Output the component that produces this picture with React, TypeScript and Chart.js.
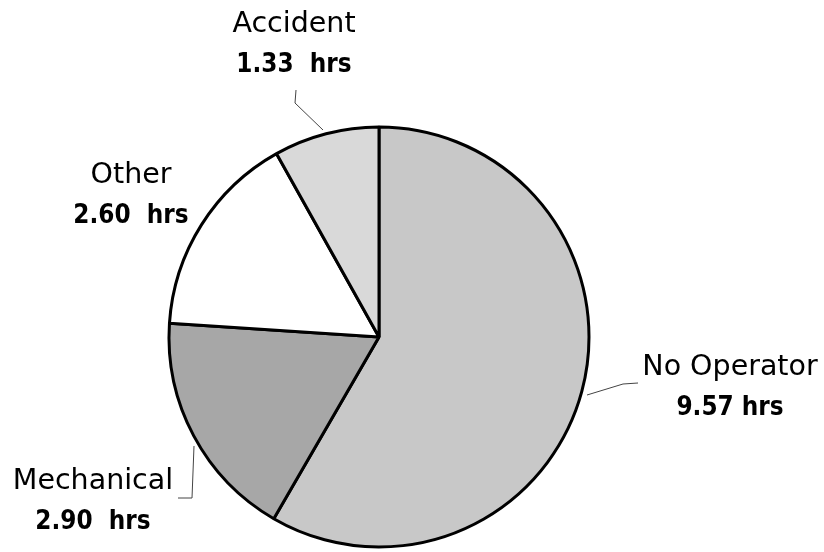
import React, { useEffect, useRef } from "react";
import { Chart, registerables } from "chart.js";

Chart.register(...registerables);

const categories = ["No Operator", "Mechanical", "Other", "Accident"];
const hours = [9.57, 2.9, 2.6, 1.33];
const valueLabels = ["9.57 hrs", "2.90  hrs", "2.60  hrs", "1.33  hrs"];
const sliceColors = ["#c8c8c8", "#a7a7a7", "#ffffff", "#d9d9d9"];

// label anchor (centre x, first baseline) and leader-line polylines, in px
const labelPlacement = [
  { cx: 730, y: 375, line: [[587, 395], [623, 384], [638, 383]] },
  { cx: 93, y: 489, line: [[194, 446], [192, 498], [178, 498]] },
  { cx: 131, y: 183, line: [] as number[][] },
  { cx: 294, y: 32, line: [[296, 90], [295, 103], [323, 130]] },
];

const labelPlugin = {
  id: "outerLabels",
  afterDraw(chart: any) {
    const ctx = chart.ctx as CanvasRenderingContext2D;
    ctx.save();
    categories.forEach((name, i) => {
      const p = labelPlacement[i];
      if (p.line.length) {
        ctx.beginPath();
        ctx.strokeStyle = "#444";
        ctx.lineWidth = 1;
        p.line.forEach(([x, y], k) => (k === 0 ? ctx.moveTo(x, y) : ctx.lineTo(x, y)));
        ctx.stroke();
      }
      ctx.fillStyle = "#000";
      ctx.textAlign = "center";
      ctx.textBaseline = "alphabetic";
      ctx.font = '28.5px "DejaVu Sans"';
      ctx.fillText(name, p.cx, p.y);
      ctx.save();
      ctx.translate(p.cx, p.y + 40);
      ctx.scale(0.86, 1);
      ctx.font = 'bold 27px "DejaVu Sans"';
      ctx.fillText(valueLabels[i], 0, 0);
      ctx.restore();
    });
    ctx.restore();
  },
};

export default function App() {
  const ref = useRef<HTMLCanvasElement>(null);
  useEffect(() => {
    if (!ref.current) return;
    const chart = new Chart(ref.current, {
      type: "pie",
      data: {
        labels: categories,
        datasets: [
          {
            data: hours,
            backgroundColor: sliceColors,
            borderColor: "#000",
            borderWidth: 3,
            hoverOffset: 0,
            radius: 210,
          } as any,
        ],
      },
      options: {
        responsive: false,
        animation: false,
        devicePixelRatio: 1,
        layout: { padding: { left: 0, right: 66, top: 122, bottom: 0 } },
        plugins: { legend: { display: false }, tooltip: { enabled: false } },
      },
      plugins: [labelPlugin],
    });
    return () => chart.destroy();
  }, []);
  return (
    <div style={{ position: "absolute", left: 0, top: 0, width: 824, height: 552, background: "#fff" }}>
      <canvas ref={ref} width={824} height={552} />
    </div>
  );
}
